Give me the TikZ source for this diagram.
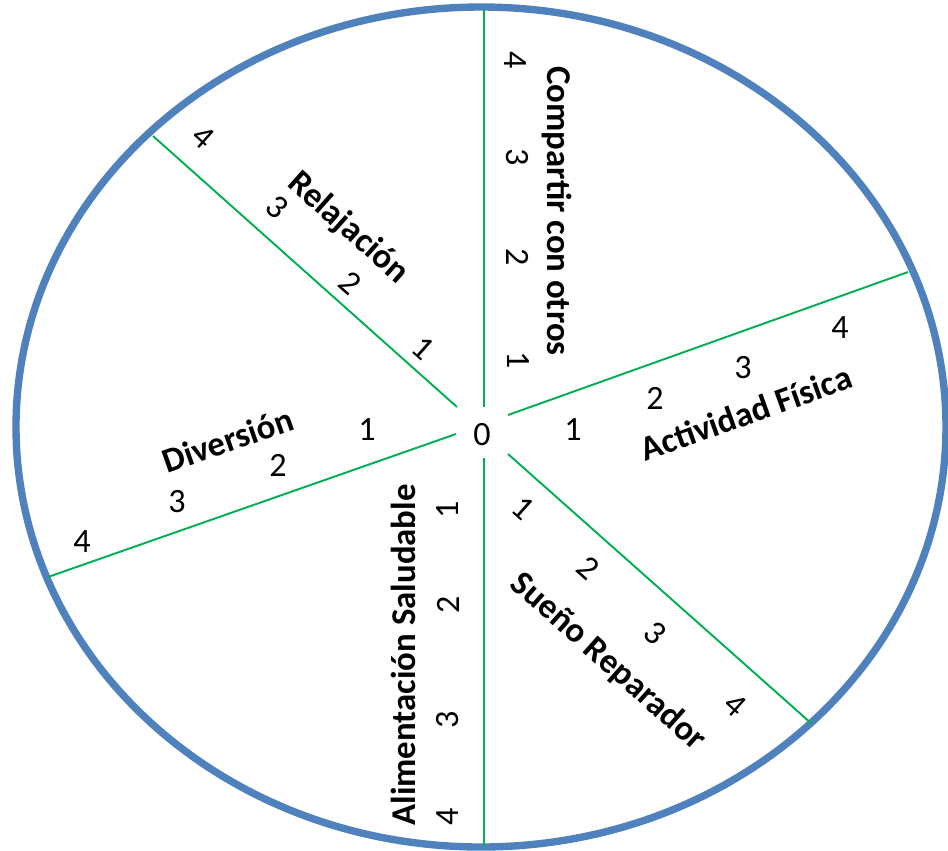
\documentclass[tikz,border=0pt]{standalone}
\usepackage{fontspec}
\setmainfont{Carlito}
\definecolor{rimblue}{RGB}{79,129,189}
\definecolor{spokegreen}{RGB}{0,176,80}
\tikzset{
  rim/.style={draw=rimblue, line width=4.2pt},
  spoke/.style={draw=spokegreen, line width=1.1pt},
  axislbl/.style={font=\fontsize{19.8}{22}\selectfont\bfseries, inner sep=0pt},
  numlbl/.style={font=\fontsize{19.4}{22}\selectfont, inner sep=0pt}
}
\begin{document}
\begin{tikzpicture}[x=0.02cm,y=-0.02cm]
        \useasboundingbox (0,0) rectangle (948,850);
        %Rim
        \draw[rim] (481,427) ellipse [x radius=465, y radius=420];
        %Spokes
        \coordinate (upin) at (484,407);
        \coordinate (upout) at (484,9);
        \coordinate (dnin) at (484,458);
        \coordinate (dnout) at (484,846);
        \coordinate (urin) at (508,415);
        \coordinate (urout) at (908,272);
        \coordinate (llin) at (456,434);
        \coordinate (llout) at (48,577);
        \coordinate (ulin) at (457,407);
        \coordinate (ulout) at (153,136);
        \coordinate (lrin) at (508,454);
        \coordinate (lrout) at (812,724);
        \draw[spoke] (upin) -- (upout);
        \draw[spoke] (dnin) -- (dnout);
        \draw[spoke] (urin) -- (urout);
        \draw[spoke] (llin) -- (llout);
        \draw[spoke] (ulin) -- (ulout);
        \draw[spoke] (lrin) -- (lrout);
        %Centre
        \node[numlbl] (zero) at (482,435) {0};
        %Compartir con otros
        \node[axislbl, rotate=-90] (compartir) at (557,211) {Compartir con otros};
        \node[numlbl, rotate=-90] (c1) at (518,360) {1};
        \node[numlbl, rotate=-90] (c2) at (518,257) {2};
        \node[numlbl, rotate=-90] (c3) at (517,157) {3};
        \node[numlbl, rotate=-90] (c4) at (515,60) {4};
        %Relajacion
        \node[axislbl, rotate=-41.7] (relajacion) at (348,228) {Relajación};
        \node[numlbl, rotate=-41.7] (r1) at (423,348) {1};
        \node[numlbl, rotate=-41.7] (r2) at (350,283) {2};
        \node[numlbl, rotate=-41.7] (r3) at (277,207) {3};
        \node[numlbl, rotate=-41.7] (r4) at (203,137) {4};
        %Actividad Fisica
        \node[axislbl, rotate=19.7] (actividad) at (746,413) {Actividad Física};
        \node[numlbl] (a1) at (573,430) {1};
        \node[numlbl] (a2) at (655,398) {2};
        \node[numlbl] (a3) at (743,368) {3};
        \node[numlbl] (a4) at (840,328) {4};
        %Diversion
        \node[axislbl, rotate=19.3] (diversion) at (228,440) {Diversión};
        \node[numlbl] (d1) at (367,430) {1};
        \node[numlbl] (d2) at (278,465) {2};
        \node[numlbl] (d3) at (177,502) {3};
        \node[numlbl] (d4) at (82,542) {4};
        %Alimentacion Saludable
        \node[axislbl, rotate=90] (alimentacion) at (403,655) {Alimentación Saludable};
        \node[numlbl, rotate=90] (al1) at (448,510) {1};
        \node[numlbl, rotate=90] (al2) at (448,605) {2};
        \node[numlbl, rotate=90] (al3) at (448,720) {3};
        \node[numlbl, rotate=90] (al4) at (448,817) {4};
        %Sueno Reparador
        \node[axislbl, rotate=-41.7] (sueno) at (608,662) {Sueño Reparador};
        \node[numlbl, rotate=-41.7] (s1) at (523,508) {1};
        \node[numlbl, rotate=-41.7] (s2) at (588,568) {2};
        \node[numlbl, rotate=-41.7] (s3) at (655,633) {3};
        \node[numlbl, rotate=-41.7] (s4) at (735,705) {4};
    \end{tikzpicture}
\end{document}
